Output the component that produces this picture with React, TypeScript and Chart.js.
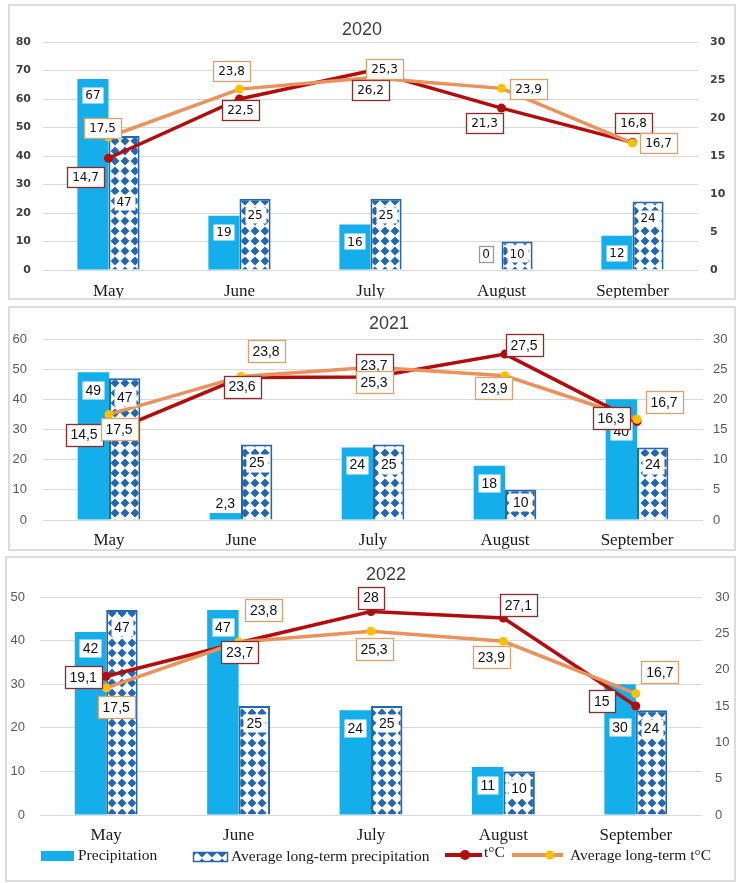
import React, { useEffect, useRef } from 'react';
import { Chart, registerables } from 'chart.js';

Chart.register(...registerables);

// ---------- data ----------
const months = ['May', 'June', 'July', 'August', 'September'];
const years = ['2020', '2021', '2022'];
const precip2020 = [67, 19, 16, 0, 12];
const precip2021 = [49, 2.3, 24, 18, 40];
const precip2022 = [42, 47, 24, 11, 30];
const avgPrecip = [47, 25, 25, 10, 24];
const temp2020 = [14.7, 22.5, 26.2, 21.3, 16.8];
const temp2021 = [14.5, 23.6, 23.7, 27.5, 16.3];
const temp2022 = [19.1, 23.7, 28, 27.1, 15];
const avgTemp = [17.5, 23.8, 25.3, 23.9, 16.7];
const leftMax = [80, 60, 50];
const leftStep = 10;
const rightMax = 30;
const rightStep = 5;
const legendLabels = ['Precipitation', 'Average long-term precipitation', 't°C', 'Average long-term t°C'];

const precipByYear = [precip2020, precip2021, precip2022];
const tempByYear = [temp2020, temp2021, temp2022];

// ---------- label placement (offsets from the drawn element) ----------
const precipLabelDy = [
  [16, 16, 17, -16, 17],
  [18, -10, 17, 17, 32],
  [16, 17, 18, 18, 43],
];
const avgPrecipLabelDy = [
  [66, 16, 16, 12, 16],
  [19, 18, 20, 12, 17],
  [17, 17, 17, 17, 18],
];
const tempLabelOff = [
  [[-23, 19], [1, 11], [0, 19], [-17, 15], [1, -19]],
  [[-25, 2], [1, 9], [1, -12], [19, -9], [-26, -4]],
  [[-23, 1], [1, 9], [0, -14], [15, -13], [-34, -5]],
];
const avgTempLabelOff = [
  [[-6, -9], [-8, -18], [14, -9], [27, 1], [26, 0]],
  [[10, 15], [25, -25], [1, 15], [-11, 12], [27, -17]],
  [[10, 19], [25, -32], [3, 18], [-12, 16], [24, -22]],
];

// ---------- geometry & style ----------
const geom = [
  { left: 8, top: 4, w: 728, h: 296, pl: 33, pr: 688, pt: 36, pb: 264, titleX: 352, titleY: 24, yPad: 12, y1Pad: 12, xPad: 3 },
  { left: 8, top: 306, w: 728, h: 245, pl: 33, pr: 693, pt: 31, pb: 212, titleX: 379, titleY: 16, yPad: 16, y1Pad: 10, xPad: 2 },
  { left: 5, top: 556, w: 731, h: 326, pl: 33, pr: 695, pt: 39, pb: 257, titleX: 379, titleY: 17, yPad: 15, y1Pad: 13, xPad: 2 },
];
const BLUE = '#14afea';
const PAT_BLUE = '#2466b0';
const RED = '#b20c0c';
const ORANGE = '#e9925c';
const YELLOW = '#ffc000';
const RED_BOX = '#8c2b2b';
const ORANGE_BOX = '#d8a36c';

const fmt = (v: number) => String(v).replace('.', ',');

function makePattern(ctx: CanvasRenderingContext2D) {
  const c = document.createElement('canvas');
  c.width = 10;
  c.height = 10;
  const g = c.getContext('2d')!;
  g.fillStyle = '#ffffff';
  g.fillRect(0, 0, 10, 10);
  g.fillStyle = PAT_BLUE;
  g.beginPath();
  g.moveTo(5, 0.5);
  g.lineTo(9.5, 5);
  g.lineTo(5, 9.5);
  g.lineTo(0.5, 5);
  g.closePath();
  g.fill();
  return ctx.createPattern(c, 'repeat')!;
}

function drawBox(ctx: CanvasRenderingContext2D, text: string, cx: number, cy: number, font: string, size: number, padX: number, padY: number, border: string | null) {
  ctx.save();
  ctx.font = font;
  const tw = ctx.measureText(text).width;
  const bw = Math.round(tw + padX * 2);
  const bh = Math.round(size + padY * 2);
  const x = Math.round(cx - bw / 2) + 0.5;
  const y = Math.round(cy - bh / 2) + 0.5;
  ctx.fillStyle = '#ffffff';
  ctx.fillRect(x, y, bw, bh);
  if (border) {
    ctx.strokeStyle = border;
    ctx.lineWidth = 1.3;
    ctx.strokeRect(x, y, bw, bh);
  }
  ctx.fillStyle = '#111111';
  ctx.textAlign = 'center';
  ctx.textBaseline = 'middle';
  ctx.fillText(text, cx, cy + 1);
  ctx.restore();
}

function Panel({ idx }: { idx: number }) {
  const ref = useRef<HTMLCanvasElement>(null);
  const g = geom[idx];
  const cw = g.w - 4;
  const ch = g.h - 4;

  useEffect(() => {
    const canvas = ref.current!;
    const ctx = canvas.getContext('2d')!;
    const pattern = makePattern(ctx);
    const first = idx === 0;
    const tickFont = first
      ? { family: '"DejaVu Sans"', size: 11, weight: 'bold' as const }
      : { family: '"Liberation Sans"', size: 13 };
    const tickColor = first ? '#404040' : '#595959';
    const lblSize = first ? 12 : 14;
    const lblFont = first ? `${lblSize}px "DejaVu Sans"` : `${lblSize}px "Liberation Sans"`;

    const labelPlugin = {
      id: 'boxLabels' + idx,
      afterDatasetsDraw(chart: any) {
        const c = chart.ctx as CanvasRenderingContext2D;
        const order = [2, 3, 0, 1];
        order.forEach((di) => {
          const meta = chart.getDatasetMeta(di);
          const ds = chart.data.datasets[di];
          meta.data.forEach((el: any, j: number) => {
            const v = ds.data[j] as number;
            if (di === 2) {
              drawBox(c, fmt(v), el.x, el.y + precipLabelDy[idx][j], lblFont, lblSize, 3, 2, v === 0 ? '#9a9a9a' : null);
            } else if (di === 3) {
              drawBox(c, fmt(v), el.x, el.y + avgPrecipLabelDy[idx][j], lblFont, lblSize, 3, 2, null);
            } else if (di === 0) {
              const o = tempLabelOff[idx][j];
              drawBox(c, fmt(v), el.x + o[0], el.y + o[1], lblFont, lblSize, 5, 4, RED_BOX);
            } else {
              const o = avgTempLabelOff[idx][j];
              drawBox(c, fmt(v), el.x + o[0], el.y + o[1], lblFont, lblSize, 5, 4, ORANGE_BOX);
            }
          });
        });
      },
      afterDraw(chart: any) {
        const c = chart.ctx as CanvasRenderingContext2D;
        c.save();
        c.font = '18px "Liberation Sans"';
        c.fillStyle = '#404040';
        c.textAlign = 'center';
        c.textBaseline = 'middle';
        c.fillText(years[idx], g.titleX, g.titleY);
        c.restore();
        if (idx === 2) {
          c.save();
          const ly = 298;
          c.fillStyle = BLUE;
          c.fillRect(34, 293, 33, 10);
          c.fillStyle = pattern;
          c.fillRect(186, 294, 35, 10);
          c.strokeStyle = PAT_BLUE;
          c.lineWidth = 1.5;
          c.strokeRect(186.5, 294.5, 34, 9);
          c.lineWidth = 4;
          c.strokeStyle = RED;
          c.beginPath();
          c.moveTo(438, 297);
          c.lineTo(475, 297);
          c.stroke();
          c.fillStyle = RED;
          c.beginPath();
          c.arc(458, 297, 5, 0, Math.PI * 2);
          c.fill();
          c.strokeStyle = ORANGE;
          c.beginPath();
          c.moveTo(505, 297);
          c.lineTo(556, 297);
          c.stroke();
          c.fillStyle = YELLOW;
          c.beginPath();
          c.arc(543, 297, 4.5, 0, Math.PI * 2);
          c.fill();
          c.font = '15.5px "Liberation Serif"';
          c.fillStyle = '#1a1a1a';
          c.textAlign = 'left';
          c.textBaseline = 'middle';
          c.fillText(legendLabels[0], 71, ly);
          c.fillText(legendLabels[1], 224, ly + 1);
          c.fillText(legendLabels[2], 477, ly - 3);
          c.fillText(legendLabels[3], 563, ly);
          c.restore();
        }
      },
    };

    const chart = new Chart(canvas, {
      type: 'bar',
      data: {
        labels: months,
        datasets: [
          {
            type: 'line',
            label: legendLabels[2],
            data: tempByYear[idx],
            yAxisID: 'y1',
            borderColor: RED,
            backgroundColor: RED,
            borderWidth: 3.5,
            pointRadius: 4.5,
            pointBackgroundColor: RED,
            pointBorderColor: RED,
            pointBorderWidth: 0,
            tension: 0,
            order: 1,
          } as any,
          {
            type: 'line',
            label: legendLabels[3],
            data: avgTemp,
            yAxisID: 'y1',
            borderColor: ORANGE,
            backgroundColor: YELLOW,
            borderWidth: 3.5,
            pointRadius: 4.5,
            pointBackgroundColor: YELLOW,
            pointBorderColor: YELLOW,
            pointBorderWidth: 0,
            tension: 0,
            order: 0,
          } as any,
          {
            type: 'bar',
            label: legendLabels[0],
            data: precipByYear[idx],
            yAxisID: 'y',
            backgroundColor: BLUE,
            borderWidth: 0,
            order: 2,
            categoryPercentage: 0.475,
            barPercentage: 1,
          } as any,
          {
            type: 'bar',
            label: legendLabels[1],
            data: avgPrecip,
            yAxisID: 'y',
            backgroundColor: pattern,
            borderColor: PAT_BLUE,
            borderWidth: 2,
            order: 3,
            categoryPercentage: 0.475,
            barPercentage: 1,
          } as any,
        ],
      },
      options: {
        responsive: false,
        animation: false,
        devicePixelRatio: 1,
        layout: { padding: { top: g.pt, left: 0, right: 0, bottom: 0 } },
        plugins: {
          legend: { display: false },
          tooltip: { enabled: false },
          title: { display: false },
        },
        scales: {
          x: {
            grid: { display: false },
            border: { display: false },
            ticks: {
              font: { family: '"Liberation Serif"', size: 17 },
              color: '#1a1a1a',
              padding: g.xPad,
              maxRotation: 0,
              autoSkip: false,
            },
            afterFit: (s: any) => {
              s.height = ch - g.pb;
            },
          },
          y: {
            position: 'left',
            min: 0,
            max: leftMax[idx],
            ticks: { stepSize: leftStep, padding: g.yPad, font: tickFont, color: tickColor },
            grid: { color: '#d9d9d9', lineWidth: 1, drawTicks: false },
            border: { display: false },
            afterFit: (s: any) => {
              s.width = g.pl;
            },
          },
          y1: {
            position: 'right',
            min: 0,
            max: rightMax,
            ticks: { stepSize: rightStep, padding: g.y1Pad, font: tickFont, color: tickColor },
            grid: { display: false, drawTicks: false },
            border: { display: false },
            afterFit: (s: any) => {
              s.width = cw - g.pr;
            },
          },
        },
      } as any,
      plugins: [labelPlugin as any],
    });
    return () => chart.destroy();
  }, [idx]);

  return (
    <div
      style={{
        position: 'absolute',
        left: g.left,
        top: g.top,
        width: g.w,
        height: g.h,
        border: '2px solid #dcdcdc',
        boxSizing: 'border-box',
        background: '#ffffff',
      }}
    >
      <canvas ref={ref} width={cw} height={ch} style={{ display: 'block', width: cw, height: ch }} />
    </div>
  );
}

export default function App() {
  return (
    <div style={{ position: 'absolute', left: 0, top: 0, width: 739, height: 883, background: '#ffffff' }}>
      <Panel idx={0} />
      <Panel idx={1} />
      <Panel idx={2} />
    </div>
  );
}
